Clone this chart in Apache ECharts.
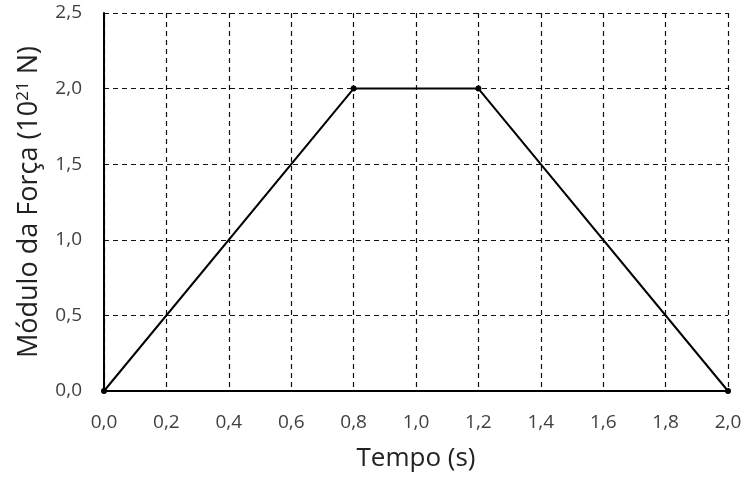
<!DOCTYPE html>
<html>
<head>
<meta charset="utf-8">
<script src="https://cdn.jsdelivr.net/npm/echarts@6/dist/echarts.min.js"></script>
<style>
  html, body { margin: 0; padding: 0; background: #fff; }
  #chart { width: 751px; height: 483px; }
</style>
</head>
<body>
<div id="chart"></div>
<script>
(function(){
	// tempo (s) e módulo da força (10^21 N)
	var tempo = [0.0, 0.8, 1.2, 2.0];
	var forca = [0.0, 2.0, 2.0, 0.0];
	var xName = 'Tempo (s)';
	var yName = 'Módulo da Força (10{sup|21} N)';

	var fmt = function(v){ return v.toFixed(1).replace('.', ','); };

	var chart = echarts.init(document.getElementById('chart'));
	var option = {
		animation: false,
		textStyle: { fontFamily: 'Open Sans' },
		grid: { left: 104, right: 23, top: 13, bottom: 92 },
		xAxis: {
			type: 'value',
			min: 0, max: 2, interval: 0.2,
			name: xName,
			nameLocation: 'middle',
			nameGap: 55,
			nameTextStyle: { fontSize: 26, color: '#222' },
			axisLine: { lineStyle: { color: '#000', width: 2 } },
			axisTick: { show: false },
			axisLabel: { fontSize: 19, color: '#404040', margin: 22, formatter: fmt },
			splitLine: { lineStyle: { color: '#111', type: [5, 4], width: 1.2 } }
		},
		yAxis: {
			type: 'value',
			min: 0, max: 2.5, interval: 0.5,
			name: yName,
			nameLocation: 'middle',
			nameGap: 60,
			nameTextStyle: {
				fontSize: 27, color: '#222',
				rich: { sup: { fontSize: 17, color: '#222', verticalAlign: 'top', padding: [0, 0, 12, 0] } }
			},
			axisLine: { show: true, lineStyle: { color: '#000', width: 2 } },
			axisTick: { show: false },
			axisLabel: { fontSize: 19, color: '#404040', margin: 22, formatter: fmt },
			splitLine: { lineStyle: { color: '#111', type: [5, 4], width: 1.2 } }
		},
		series: [{
			type: 'line',
			data: tempo.map(function(t, i){ return [t, forca[i]]; }),
			symbol: 'circle',
			symbolSize: 6,
			itemStyle: { color: '#000' },
			lineStyle: { color: '#000', width: 2 }
		}]
	};
	chart.setOption(option);
})();
</script>
</body>
</html>
